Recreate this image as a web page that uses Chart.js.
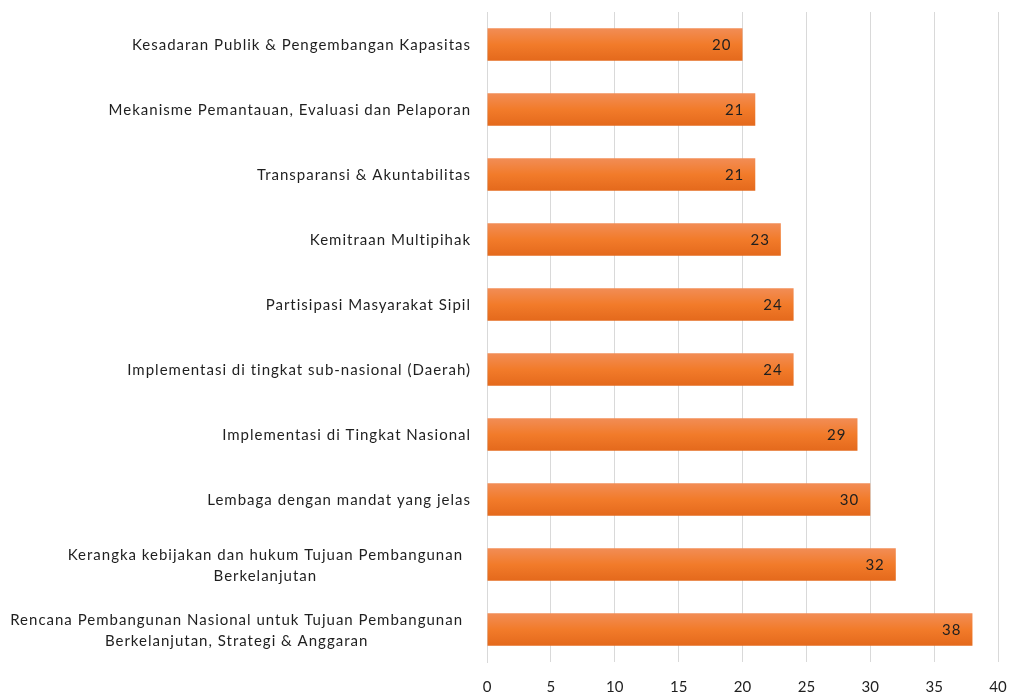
<!DOCTYPE html>
<html>
<head>
<meta charset="utf-8">
<script src="https://cdn.jsdelivr.net/npm/chart.js@4.4.0/dist/chart.umd.min.js"></script>
<style>
    html, body { margin: 0; padding: 0; background: #ffffff; }
    #wrap { width: 1016px; height: 696px; }
</style>
</head>
<body>
<div id="wrap"><canvas id="chart" width="1016" height="696"></canvas></div>
<script>
// categories, top to bottom
const categories = [
    ["Kesadaran Publik & Pengembangan Kapasitas"],
    ["Mekanisme Pemantauan, Evaluasi dan Pelaporan"],
    ["Transparansi & Akuntabilitas"],
    ["Kemitraan Multipihak"],
    ["Partisipasi Masyarakat Sipil"],
    ["Implementasi di tingkat sub-nasional (Daerah)"],
    ["Implementasi di Tingkat Nasional"],
    ["Lembaga dengan mandat yang jelas"],
    ["Kerangka kebijakan dan hukum Tujuan Pembangunan", "Berkelanjutan"],
    ["Rencana Pembangunan Nasional untuk Tujuan Pembangunan", "Berkelanjutan, Strategi & Anggaran"]
];
const values = [20, 21, 21, 23, 24, 24, 29, 30, 32, 38];
const xTicks = [0, 5, 10, 15, 20, 25, 30, 35, 40];

const FONT = "Lato, 'Open Sans', sans-serif";
const labelFont = "15px " + FONT;
const textColor = "#1f1f1f";

function barGradient(context) {
    const chart = context.chart;
    const y = chart.scales.y;
    if (!y || context.dataIndex === undefined) return "#f07d2a";
    const center = y.getPixelForValue(context.dataIndex);
    const half = (y.height / categories.length) * 0.5 / 2;
    if (!isFinite(center) || !isFinite(half) || half <= 0) return "#f07d2a";
    const g = chart.ctx.createLinearGradient(0, center - half, 0, center + half);
    g.addColorStop(0, "#f28d56");
    g.addColorStop(0.5, "#f27b2a");
    g.addColorStop(1, "#e4691c");
    return g;
}

// value labels at the inner end of each bar
const valueLabels = {
    id: "valueLabels",
    afterDatasetsDraw(chart) {
        const ctx = chart.ctx;
        const meta = chart.getDatasetMeta(0);
        ctx.save();
        ctx.font = labelFont;
        ctx.letterSpacing = "1px";
        ctx.fillStyle = textColor;
        ctx.textAlign = "right";
        ctx.textBaseline = "middle";
        meta.data.forEach(function(bar, i) {
            ctx.fillText(String(values[i]), bar.x - 11, bar.y + 1);
        });
        ctx.letterSpacing = "0px";
        ctx.restore();
    }
};

// category labels: block right aligned, lines centred inside the block
const categoryLabels = {
    id: "categoryLabels",
    afterDraw(chart) {
        const ctx = chart.ctx;
        const y = chart.scales.y;
        const right = chart.chartArea.left - 16;
        const lineH = 21;
        ctx.save();
        ctx.font = labelFont;
        ctx.letterSpacing = "1px";
        ctx.fillStyle = textColor;
        ctx.textAlign = "center";
        ctx.textBaseline = "middle";
        categories.forEach(function(lines, i) {
            const cy = y.getPixelForValue(i);
            let w = 0;
            lines.forEach(function(l) { w = Math.max(w, ctx.measureText(l).width); });
            if (lines.length > 1) w += 16;
            const cx = right - w / 2;
            const start = cy - (lines.length - 1) * lineH / 2;
            lines.forEach(function(l, k) {
                ctx.fillText(l, cx, start + k * lineH + 1);
            });
        });
        ctx.letterSpacing = "0px";
        ctx.restore();
    }
};

const chart = new Chart(document.getElementById("chart"), {
    type: "bar",
    data: {
        labels: categories,
        datasets: [{
            data: values,
            backgroundColor: barGradient,
            borderWidth: 0,
            barPercentage: 0.5,
            categoryPercentage: 1.0
        }]
    },
    options: {
        indexAxis: "y",
        responsive: false,
        animation: false,
        layout: { padding: { top: 12, right: 18, left: 0, bottom: 0 } },
        scales: {
            x: {
                min: 0,
                max: 40,
                afterBuildTicks: function(scale) {
                    scale.ticks = xTicks.map(function(v) { return { value: v }; });
                },
                afterFit: function(scale) {
                    scale.height = 34;
                    scale.paddingRight = 0;
                    scale.paddingLeft = 0;
                },
                grid: { color: "#d9d9d9", lineWidth: 1, drawTicks: false },
                border: { display: false },
                ticks: {
                    font: { family: FONT, size: 15 },
                    color: textColor,
                    padding: 16,
                    maxRotation: 0
                }
            },
            y: {
                afterFit: function(scale) { scale.width = 487; },
                grid: { display: false },
                border: { display: true, color: "#d9d9d9", width: 1 },
                ticks: { display: false }
            }
        },
        plugins: {
            legend: { display: false },
            tooltip: { enabled: false }
        }
    },
    plugins: [valueLabels, categoryLabels]
});
// redraw once the scales exist so each bar gets its own gradient
chart.update();
</script>
</body>
</html>
